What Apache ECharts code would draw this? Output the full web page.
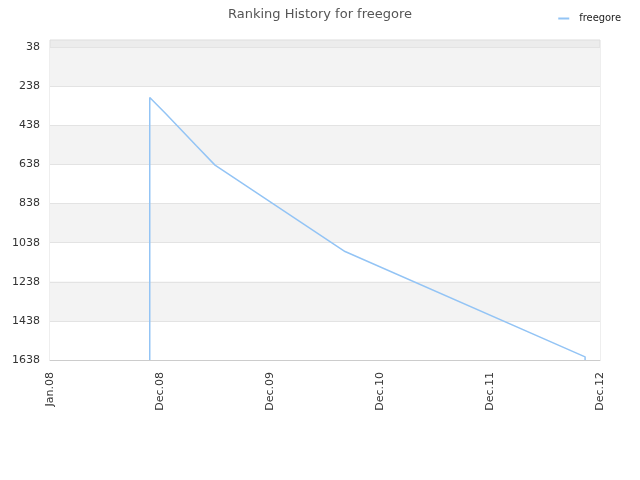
<!DOCTYPE html>
<html>
<head>
<meta charset="utf-8">
<script src="https://cdn.jsdelivr.net/npm/echarts@6/dist/echarts.min.js"></script>
<style>html,body{margin:0;padding:0;background:#fff}#c{width:640px;height:480px}</style>
</head>
<body>
<div id="c"></div>
<script>
// x: months since Jan 2008; y: rank
var xMonths = [10.7, 10.7, 12.4, 15.7, 17.7, 31.65, 57.4, 57.4];
var ranks   = [1638, 295, 377, 542, 641, 1083, 1622, 1638];
var xTickLabels = ['Jan.08', 'Dec.08', 'Dec.09', 'Dec.10', 'Dec.11', 'Dec.12'];
var yTickValues = [38, 238, 438, 638, 838, 1038, 1238, 1438, 1638];
var seriesName = 'freegore';

var xMax = 59, xStep = xMax / 5;
var data = xMonths.map(function (x, i) { return [x, ranks[i]]; });

var chart = echarts.init(document.getElementById('c'), null, {renderer: 'canvas'});
chart.setOption({
  animation: false,
  title: {
    text: 'Ranking History for ' + seriesName,
    left: 'center', top: 3,
    textStyle: {fontFamily: 'DejaVu Sans', fontSize: 13, fontWeight: 'normal', color: '#555'}
  },
  legend: {
    right: 14, top: 8,
    itemWidth: 11, itemHeight: 2, itemGap: 6,
    icon: 'rect',
    textStyle: {fontFamily: 'DejaVu Sans Condensed', fontSize: 11, color: '#222', padding: [0, 0, 0, 5]},
    data: [seriesName]
  },
  grid: {left: 50, right: 40, top: 40, bottom: 120, show: true, borderColor: '#ddd', borderWidth: 1, backgroundColor: '#ececec'},
  xAxis: {
    type: 'value', min: 0, max: xMax, interval: xStep,
    axisLine: {show: true, lineStyle: {color: '#ccc'}},
    axisTick: {show: false},
    splitLine: {show: false},
    axisLabel: {
      rotate: 90, fontFamily: 'DejaVu Sans', fontSize: 11, color: '#333', margin: 12,
      formatter: function (v) { return xTickLabels[Math.round(v / xStep)] || ''; }
    }
  },
  yAxis: {
    type: 'value', inverse: true, min: 1, max: 1638,
    axisLine: {show: false},
    axisTick: {show: false, customValues: yTickValues},
    axisLabel: {customValues: yTickValues, fontFamily: 'DejaVu Sans', fontSize: 11, color: '#333', margin: 10,
      formatter: function (v) { return String(v); }},
    splitLine: {show: true, lineStyle: {color: '#e3e3e3', width: 1}},
    splitArea: {show: true, areaStyle: {color: ['#f3f3f3', '#ffffff']}}
  },
  series: [{
    name: seriesName, type: 'line', data: data,
    showSymbol: false, symbol: 'none',
    lineStyle: {color: '#93c4f5', width: 1.5},
    itemStyle: {color: '#93c4f5'}
  }]
});
</script>
</body>
</html>
